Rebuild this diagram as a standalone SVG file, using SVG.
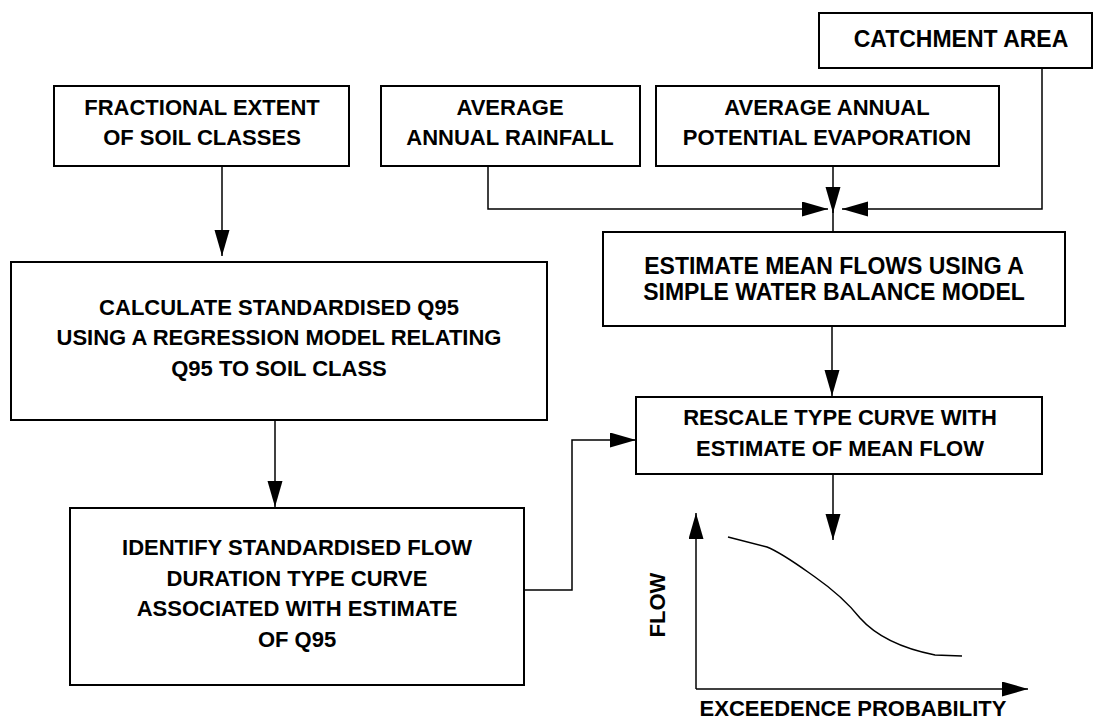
<svg xmlns="http://www.w3.org/2000/svg" width="1094" height="720" viewBox="0 0 1094 720">
  <defs>
    <style>
      .box { fill: #ffffff; stroke: #000000; stroke-width: 2; }
      .lbl { font-family: "Liberation Sans", Arial, sans-serif; font-weight: bold; font-size: 22px; fill: #000000; text-anchor: middle; }
      .big { font-size: 23px; }
      .conn { fill: none; stroke: #000000; stroke-width: 1.5; }
      .curve { fill: none; stroke: #000000; stroke-width: 1.5; }
    </style>
    <marker id="arrow" markerUnits="userSpaceOnUse" markerWidth="27" markerHeight="16" refX="26" refY="7.5" orient="auto">
      <path d="M0,0 L26,7.5 L0,15 Z" fill="#000000"/>
    </marker>
  </defs>
  <rect width="1094" height="720" fill="#ffffff"/>

  <g id="catchment-area">
    <rect class="box" x="819" y="13" width="273" height="55"/>
    <text class="lbl big" x="961" y="47">CATCHMENT AREA</text>
  </g>

  <g id="fractional-extent">
    <rect class="box" x="54" y="86" width="295" height="80"/>
    <text class="lbl" x="202" y="115">FRACTIONAL EXTENT</text>
    <text class="lbl" x="202" y="145">OF SOIL CLASSES</text>
  </g>

  <g id="average-annual-rainfall">
    <rect class="box" x="381" y="86" width="259" height="80"/>
    <text class="lbl" x="510" y="115">AVERAGE</text>
    <text class="lbl" x="510" y="145">ANNUAL RAINFALL</text>
  </g>

  <g id="average-annual-evaporation">
    <rect class="box" x="656" y="86" width="343" height="80"/>
    <text class="lbl" x="827" y="115">AVERAGE ANNUAL</text>
    <text class="lbl" x="827" y="145">POTENTIAL EVAPORATION</text>
  </g>

  <g id="estimate-mean-flows">
    <rect class="box" x="603" y="232" width="462" height="94"/>
    <text class="lbl big" x="834" y="274">ESTIMATE MEAN FLOWS USING A</text>
    <text class="lbl big" x="834" y="300">SIMPLE WATER BALANCE MODEL</text>
  </g>

  <g id="calculate-q95">
    <rect class="box" x="11" y="262" width="536" height="158"/>
    <text class="lbl" x="279" y="315">CALCULATE STANDARDISED Q95</text>
    <text class="lbl" x="279" y="345">USING A REGRESSION MODEL RELATING</text>
    <text class="lbl" x="279" y="376">Q95 TO SOIL CLASS</text>
  </g>

  <g id="rescale-type-curve">
    <rect class="box" x="636" y="397" width="406" height="77"/>
    <text class="lbl" x="840" y="425">RESCALE TYPE CURVE WITH</text>
    <text class="lbl" x="840" y="456">ESTIMATE OF MEAN FLOW</text>
  </g>

  <g id="identify-type-curve">
    <rect class="box" x="70" y="508" width="454" height="177"/>
    <text class="lbl" x="297" y="555">IDENTIFY STANDARDISED FLOW</text>
    <text class="lbl" x="297" y="586">DURATION TYPE CURVE</text>
    <text class="lbl" x="297" y="616">ASSOCIATED WITH ESTIMATE</text>
    <text class="lbl" x="297" y="647">OF Q95</text>
  </g>

  <g id="flow-duration-curve">
    <path class="conn" d="M696,689 V513" marker-end="url(#arrow)"/>
    <path class="conn" d="M696,689 H1028" marker-end="url(#arrow)"/>
    <path class="curve" d="M728,537 L767,547 C782,553 798,565 815,577 C835,591 848,603 860,618 C876,636 900,648 935,655 L962,656"/>
    <text class="lbl" transform="translate(665,605) rotate(-90)">FLOW</text>
    <text class="lbl" x="853" y="716">EXCEEDENCE PROBABILITY</text>
  </g>

  <g id="connectors">
    <path class="conn" d="M222,166 V256" marker-end="url(#arrow)"/>
    <path class="conn" d="M275,420 V507" marker-end="url(#arrow)"/>
    <path class="conn" d="M488,166 V209 H828" marker-end="url(#arrow)"/>
    <path class="conn" d="M833,166 V213" marker-end="url(#arrow)"/>
    <path class="conn" d="M833,209 V232"/>
    <path class="conn" d="M1042,68 V209 H842" marker-end="url(#arrow)"/>
    <path class="conn" d="M832,326 V396" marker-end="url(#arrow)"/>
    <path class="conn" d="M833,474 V540" marker-end="url(#arrow)"/>
    <path class="conn" d="M524,590 H572 V440 H636" marker-end="url(#arrow)"/>
  </g>
</svg>
